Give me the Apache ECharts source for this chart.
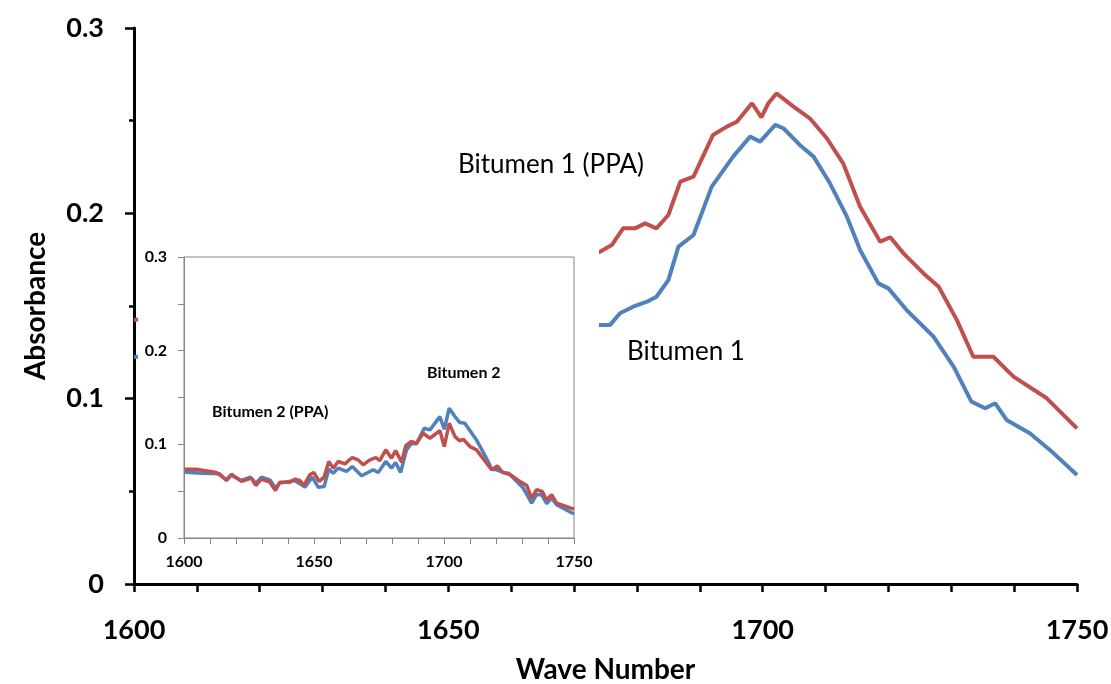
<!DOCTYPE html>
<html>
<head>
<meta charset="utf-8">
<script src="https://cdn.jsdelivr.net/npm/echarts@6/dist/echarts.min.js"></script>
<style>
  html, body { margin: 0; padding: 0; background: #fff; }
  #chart { width: 1111px; height: 684px; }
</style>
</head>
<body>
<div id="chart"></div>
<script>
// main chart: Bitumen 1 (first points sit under the inset box)
const mainWaveRed = [1600, 1620, 1640, 1660, 1674.1, 1676.0, 1677.8, 1679.7, 1681.3, 1683.1, 1685.0, 1686.9, 1689.0, 1692.1, 1694.3, 1695.9, 1698.3, 1699.8, 1700.9, 1702.2, 1704.9, 1707.5, 1710.2, 1712.8, 1715.5, 1718.7, 1720.3, 1722.4, 1725.6, 1728.0, 1730.9, 1733.5, 1736.7, 1739.9, 1745.2, 1750];
const mainAbsRed = [0.1425, 0.150, 0.158, 0.170, 0.1793, 0.1829, 0.1919, 0.1919, 0.1946, 0.1919, 0.1991, 0.2171, 0.2198, 0.2423, 0.2468, 0.2494, 0.2594, 0.2518, 0.2594, 0.2647, 0.2576, 0.2513, 0.2405, 0.2270, 0.2036, 0.1847, 0.1871, 0.1784, 0.1676, 0.1604, 0.1424, 0.1226, 0.1226, 0.1119, 0.1002, 0.0840];

const mainWaveBlue = [1600, 1620, 1640, 1660, 1674.1, 1675.7, 1677.3, 1679.4, 1681.6, 1683.1, 1685.0, 1686.6, 1689.0, 1691.9, 1695.3, 1698.0, 1699.6, 1702.0, 1703.3, 1705.9, 1708.1, 1710.7, 1713.4, 1715.5, 1718.4, 1720.0, 1722.9, 1727.2, 1730.4, 1733.2, 1735.4, 1737.0, 1738.8, 1742.5, 1746.3, 1750];
const mainAbsBlue = [0.1225, 0.128, 0.132, 0.136, 0.1397, 0.1397, 0.1461, 0.1496, 0.1523, 0.1550, 0.1640, 0.1820, 0.1883, 0.2144, 0.2306, 0.2414, 0.2387, 0.2477, 0.2459, 0.2369, 0.2306, 0.2162, 0.1982, 0.1802, 0.1622, 0.1595, 0.1478, 0.1334, 0.1172, 0.0984, 0.0948, 0.0975, 0.0885, 0.0813, 0.0705, 0.0588];

// inset chart: Bitumen 2
const insetWaveRed = [1600.3, 1604.7, 1612.4, 1616.3, 1618.2, 1622.1, 1625.9, 1627.6, 1629.8, 1633.0, 1635.2, 1636.8, 1640.7, 1642.6, 1644.5, 1646.1, 1648.4, 1649.9, 1652.0, 1653.9, 1655.7, 1657.4, 1659.3, 1661.9, 1664.7, 1667.0, 1668.9, 1671.5, 1673.8, 1675.3, 1677.6, 1679.8, 1681.4, 1683.7, 1685.3, 1687.3, 1689.4, 1692.0, 1694.6, 1698.4, 1700.1, 1702.0, 1704.2, 1706.1, 1707.4, 1710.0, 1712.5, 1718.3, 1720.5, 1722.5, 1724.7, 1728.6, 1731.8, 1733.7, 1735.6, 1737.8, 1739.5, 1741.4, 1743.3, 1750];
const insetAbsRed = [0.0735, 0.0735, 0.070, 0.0621, 0.068, 0.0604, 0.0639, 0.0561, 0.0628, 0.0596, 0.0508, 0.0596, 0.0596, 0.0628, 0.0614, 0.0561, 0.0675, 0.070, 0.0604, 0.065, 0.0817, 0.0746, 0.0817, 0.0792, 0.0859, 0.0834, 0.0781, 0.0834, 0.0859, 0.0827, 0.0941, 0.0852, 0.0934, 0.0809, 0.0987, 0.1030, 0.1012, 0.1118, 0.1065, 0.1147, 0.0976, 0.1225, 0.1083, 0.1037, 0.1054, 0.0976, 0.0941, 0.0728, 0.0770, 0.070, 0.0692, 0.0614, 0.0561, 0.0426, 0.0515, 0.0497, 0.0408, 0.0462, 0.0373, 0.0309];

const insetWaveBlue = [1600.3, 1607.3, 1613.7, 1616.3, 1618.2, 1622.1, 1625.5, 1627.6, 1629.8, 1633.0, 1635.2, 1636.8, 1642.6, 1646.5, 1649.4, 1651.6, 1653.9, 1655.7, 1657.4, 1659.3, 1662.5, 1664.7, 1668.3, 1672.8, 1674.7, 1677.6, 1679.8, 1681.4, 1683.3, 1685.6, 1687.3, 1689.4, 1692.4, 1694.6, 1698.4, 1700.1, 1702.0, 1704.2, 1706.1, 1708.0, 1712.5, 1717.0, 1718.3, 1720.2, 1725.4, 1730.5, 1733.7, 1735.6, 1737.5, 1739.5, 1741.4, 1743.3, 1750];
const insetAbsBlue = [0.0703, 0.0692, 0.0685, 0.0614, 0.0671, 0.0614, 0.065, 0.0586, 0.065, 0.0621, 0.0533, 0.0586, 0.0614, 0.0543, 0.065, 0.0543, 0.055, 0.0735, 0.0692, 0.0746, 0.071, 0.0763, 0.0664, 0.0728, 0.070, 0.0817, 0.0746, 0.0806, 0.070, 0.0941, 0.1005, 0.1005, 0.1172, 0.1154, 0.1296, 0.1161, 0.1385, 0.1296, 0.1232, 0.1225, 0.1047, 0.0817, 0.0735, 0.0728, 0.0675, 0.0533, 0.0373, 0.0462, 0.0462, 0.0366, 0.0426, 0.0355, 0.0256];

const RED = "#C0504D";
const BLUE = "#4F81BD";
const FONT = "Lato";

function pairs(xs, ys) {
  return xs.map((x, i) => [x, ys[i]]);
}
// no thousands separator on wave numbers
const plain = (v) => String(v);

const chart = echarts.init(document.getElementById("chart"));
chart.setOption({
  animation: false,
  backgroundColor: "#fff",
  textStyle: { fontFamily: FONT },
  grid: [
    { left: 134, right: 34, top: 28, bottom: 100, outerBoundsMode: "none", containLabel: false },
    {
      left: 184, top: 257, width: 390, height: 281,
      outerBoundsMode: "none", containLabel: false,
      show: true, borderColor: "#868686", borderWidth: 1,
      backgroundColor: "transparent", z: 6
    }
  ],
  xAxis: [
    {
      gridIndex: 0, type: "value", min: 1600, max: 1750, interval: 50,
      name: "Wave Number", nameLocation: "middle", nameGap: 72,
      nameTextStyle: { fontSize: 28, fontWeight: "bold", color: "#000", fontFamily: FONT },
      axisLine: { lineStyle: { color: "#000", width: 3 } },
      axisTick: { length: 8, lineStyle: { color: "#000", width: 2.5 } },
      minorTick: { show: true, splitNumber: 5, length: 8, lineStyle: { color: "#000", width: 2.5 } },
      axisLabel: { fontSize: 27, fontWeight: "bold", color: "#000", margin: 33, fontFamily: FONT, formatter: plain },
      splitLine: { show: false }
    },
    {
      gridIndex: 1, type: "value", min: 1600, max: 1750, interval: 50, z: 10,
      axisLine: { lineStyle: { color: "#868686", width: 1 } },
      axisTick: { length: 6, lineStyle: { color: "#868686" } },
      minorTick: { show: true, splitNumber: 5, length: 6, lineStyle: { color: "#868686" } },
      axisLabel: { fontSize: 16, fontWeight: "bold", color: "#000", margin: 16, fontFamily: FONT, formatter: plain },
      splitLine: { show: false }
    }
  ],
  yAxis: [
    {
      gridIndex: 0, type: "value", min: 0, max: 0.3, interval: 0.1,
      name: "Absorbance", nameLocation: "middle", nameGap: 84,
      nameTextStyle: { fontSize: 28, fontWeight: "bold", color: "#000", fontFamily: FONT },
      axisLine: { show: true, lineStyle: { color: "#000", width: 3 } },
      axisTick: { show: true, length: 9, lineStyle: { color: "#000", width: 2.5 } },
      minorTick: { show: true, splitNumber: 2, length: 5, lineStyle: { color: "#000", width: 2.5 } },
      axisLabel: { fontSize: 27, fontWeight: "bold", color: "#000", margin: 30, fontFamily: FONT },
      splitLine: { show: false }
    },
    {
      gridIndex: 1, type: "value", min: 0, max: 0.3, interval: 0.1, z: 10,
      axisLine: { show: true, lineStyle: { color: "#868686", width: 1 } },
      axisTick: { show: true, length: 6, lineStyle: { color: "#868686" } },
      minorTick: { show: true, splitNumber: 2, length: 6, lineStyle: { color: "#868686" } },
      axisLabel: { fontSize: 16, fontWeight: "bold", color: "#000", margin: 17, fontFamily: FONT },
      splitLine: { show: false }
    }
  ],
  series: [
    {
      name: "Bitumen 1 (PPA)", type: "line", xAxisIndex: 0, yAxisIndex: 0, z: 2,
      data: pairs(mainWaveRed, mainAbsRed), symbol: "none",
      lineStyle: { color: RED, width: 4 }
    },
    {
      name: "Bitumen 1", type: "line", xAxisIndex: 0, yAxisIndex: 0, z: 2,
      data: pairs(mainWaveBlue, mainAbsBlue), symbol: "none",
      lineStyle: { color: BLUE, width: 4 }
    },
    {
      name: "Bitumen 2", type: "line", xAxisIndex: 1, yAxisIndex: 1, z: 12,
      data: pairs(insetWaveBlue, insetAbsBlue), symbol: "none",
      lineStyle: { color: BLUE, width: 3.5 }
    },
    {
      name: "Bitumen 2 (PPA)", type: "line", xAxisIndex: 1, yAxisIndex: 1, z: 13,
      data: pairs(insetWaveRed, insetAbsRed), symbol: "none",
      lineStyle: { color: RED, width: 3.5 }
    }
  ],
  graphic: [
    // white box of the inset, hides the main lines behind it
    { type: "rect", left: 138, top: 243, shape: { width: 461, height: 336 }, style: { fill: "#fff" }, z: 5 },
    { type: "text", left: 458, top: 152, z: 20, style: { text: "Bitumen 1 (PPA)", fontSize: 26, fontFamily: FONT, fill: "#000" } },
    { type: "text", left: 627, top: 339, z: 20, style: { text: "Bitumen 1", fontSize: 26, fontFamily: FONT, fill: "#000" } },
    { type: "text", left: 212, top: 404, z: 20, style: { text: "Bitumen 2 (PPA)", fontSize: 16, fontWeight: "bold", fontFamily: FONT, fill: "#000" } },
    { type: "text", left: 427, top: 365, z: 20, style: { text: "Bitumen 2", fontSize: 16, fontWeight: "bold", fontFamily: FONT, fill: "#000" } }
  ]
});
</script>
</body>
</html>
